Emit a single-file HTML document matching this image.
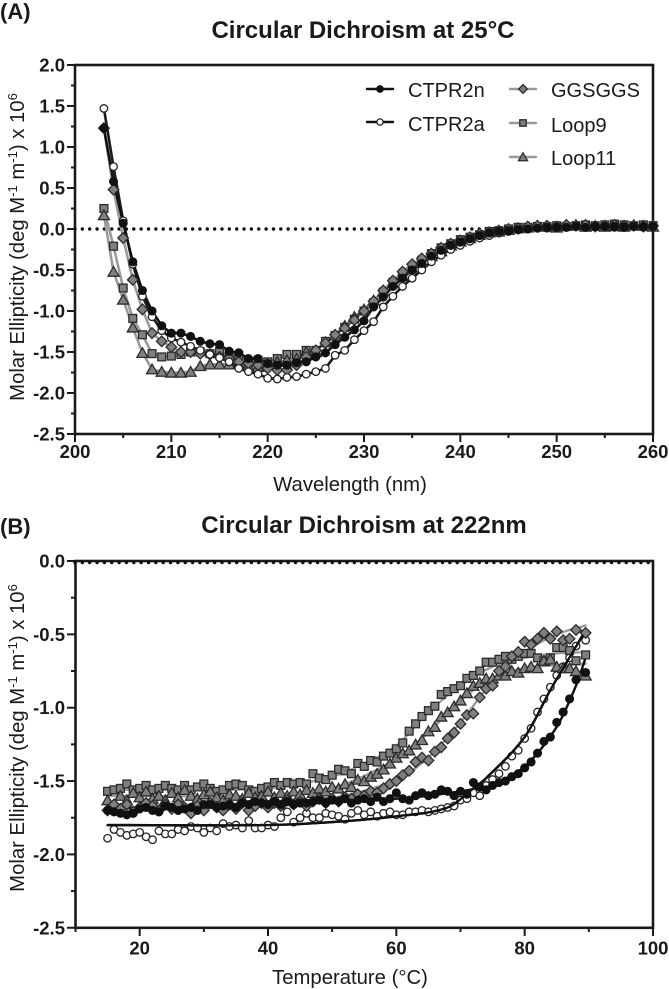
<!DOCTYPE html>
<html lang="en">
<head>
<meta charset="utf-8">
<title>Circular Dichroism</title>
<style>
html,body{margin:0;padding:0;background:#fff;}
svg{display:block;font-family:"Liberation Sans",sans-serif;fill:#1a1a1a;}
.pl{font-size:22px;font-weight:bold;}
.ti{font-size:24px;font-weight:bold;text-anchor:middle;}
.tk{font-size:18.5px;font-weight:bold;}
.ax{font-size:20.3px;}
.lg{font-size:20px;}
</style>
</head>
<body>
<svg id="fig" width="669" height="989" viewBox="0 0 669 989" xmlns="http://www.w3.org/2000/svg">
<rect x="0" y="0" width="669" height="989" fill="#fff"/>
<text class="pl" x="0" y="19">(A)</text>
<text class="ti" x="363" y="38">Circular Dichroism at 25°C</text>
<text class="pl" x="0" y="534">(B)</text>
<text class="ti" x="364" y="533">Circular Dichroism at 222nm</text>
<text class="ax" transform="translate(24,247) rotate(-90)" text-anchor="middle">Molar Ellipticity (deg M<tspan dy="-7" font-size="13">-1</tspan><tspan dy="7"> m</tspan><tspan dy="-7" font-size="13">-1</tspan><tspan dy="7">) x 10</tspan><tspan dy="-7" font-size="13">6</tspan></text>
<text class="ax" transform="translate(24,738) rotate(-90)" text-anchor="middle">Molar Ellipticity (deg M<tspan dy="-7" font-size="13">-1</tspan><tspan dy="7"> m</tspan><tspan dy="-7" font-size="13">-1</tspan><tspan dy="7">) x 10</tspan><tspan dy="-7" font-size="13">6</tspan></text>
<text class="ax" x="350" y="491" text-anchor="middle">Wavelength (nm)</text>
<text class="ax" x="350" y="984" text-anchor="middle">Temperature (°C)</text>
<g id="layerA"></g>
<g id="layerB"></g>
<g id="legend">
<text class="lg" x="408" y="97">CTPR2n</text>
<text class="lg" x="408" y="131">CTPR2a</text>
<text class="lg" x="551" y="97">GGSGGS</text>
<text class="lg" x="551" y="132">Loop9</text>
<text class="lg" x="551" y="165">Loop11</text>
</g>
</svg>
<script>
// ---------- Panel A data ----------
const wavelengths = [203,204,205,206,207,208,209,210,211,212,213,214,215,216,217,218,219,220,221,222,223,224,225,226,227,228,229,230,231,232,233,234,235,236,237,238,239,240,241,242,243,244,245,246,247,248,249,250,251,252,253,254,255,256,257,258,259,260];
const cdCTPR2n = [1.23,0.58,0.07,-0.40,-0.75,-1.00,-1.18,-1.27,-1.27,-1.31,-1.37,-1.40,-1.41,-1.49,-1.51,-1.58,-1.58,-1.64,-1.66,-1.66,-1.63,-1.62,-1.56,-1.51,-1.41,-1.32,-1.23,-1.12,-0.95,-0.83,-0.70,-0.60,-0.50,-0.42,-0.33,-0.26,-0.20,-0.16,-0.12,-0.08,-0.05,-0.03,-0.02,-0.01,0.00,0.01,0.02,0.02,0.02,0.03,0.02,0.03,0.03,0.03,0.02,0.03,0.03,0.03];
const cdCTPR2a = [1.47,0.76,0.10,-0.43,-0.82,-1.07,-1.24,-1.33,-1.38,-1.43,-1.48,-1.53,-1.57,-1.62,-1.70,-1.74,-1.77,-1.82,-1.83,-1.81,-1.80,-1.77,-1.74,-1.70,-1.54,-1.48,-1.35,-1.24,-1.13,-0.95,-0.82,-0.70,-0.60,-0.50,-0.40,-0.32,-0.25,-0.20,-0.15,-0.11,-0.08,-0.05,-0.03,-0.01,0.00,0.01,0.01,0.02,0.02,0.03,0.02,0.03,0.03,0.02,0.03,0.03,0.02,0.03];
const cdGGSGGS = [1.23,0.48,-0.11,-0.62,-0.98,-1.27,-1.37,-1.44,-1.50,-1.50,-1.52,-1.53,-1.56,-1.58,-1.62,-1.64,-1.66,-1.70,-1.72,-1.72,-1.66,-1.56,-1.48,-1.39,-1.29,-1.21,-1.11,-1.00,-0.88,-0.75,-0.63,-0.52,-0.43,-0.36,-0.30,-0.23,-0.18,-0.14,-0.10,-0.06,-0.04,-0.02,0.00,0.01,0.03,0.04,0.04,0.03,0.05,0.04,0.05,0.03,0.04,0.05,0.04,0.04,0.03,0.04];
const cdLoop9 = [0.25,-0.21,-0.72,-1.09,-1.29,-1.52,-1.56,-1.55,-1.53,-1.50,-1.50,-1.52,-1.50,-1.55,-1.54,-1.62,-1.60,-1.62,-1.58,-1.53,-1.53,-1.48,-1.48,-1.37,-1.30,-1.20,-1.10,-1.00,-0.90,-0.77,-0.65,-0.55,-0.46,-0.38,-0.30,-0.23,-0.18,-0.13,-0.10,-0.07,-0.03,-0.02,0.00,0.02,0.02,0.03,0.03,0.04,0.03,0.04,0.05,0.04,0.05,0.06,0.05,0.04,0.05,0.04];
const cdLoop11 = [0.17,-0.52,-0.86,-1.20,-1.51,-1.71,-1.74,-1.75,-1.75,-1.74,-1.67,-1.65,-1.65,-1.65,-1.65,-1.67,-1.68,-1.66,-1.62,-1.60,-1.58,-1.50,-1.50,-1.38,-1.30,-1.18,-1.07,-0.98,-0.87,-0.76,-0.66,-0.57,-0.48,-0.40,-0.33,-0.27,-0.20,-0.15,-0.11,-0.07,-0.04,-0.03,-0.01,0.01,0.02,0.04,0.03,0.02,0.04,0.05,0.03,0.04,0.03,0.04,0.03,0.05,0.04,0.03];
const yTicksA = ["2.0","1.5","1.0","0.5","0.0","-0.5","-1.0","-1.5","-2.0","-2.5"];
const xTicksA = ["200","210","220","230","240","250","260"];

// ---------- Panel B data ----------
const temperatures = [15,16,17,18,19,20,21,22,23,24,25,26,27,28,29,30,31,32,33,34,35,36,37,38,39,40,41,42,43,44,45,46,47,48,49,50,51,52,53,54,55,56,57,58,59,60,61,62,63,64,65,66,67,68,69,70,71,72,73,74,75,76,77,78,79,80,81,82,83,84,85,86,87,88,89.5];
const meltCTPR2n = [-1.70,-1.71,-1.72,-1.73,-1.72,-1.69,-1.68,-1.70,-1.71,-1.67,-1.68,-1.70,-1.69,-1.68,-1.70,-1.66,-1.66,-1.68,-1.67,-1.66,-1.68,-1.65,-1.66,-1.64,-1.65,-1.66,-1.64,-1.66,-1.64,-1.66,-1.65,-1.65,-1.64,-1.63,-1.65,-1.63,-1.64,-1.62,-1.65,-1.63,-1.62,-1.64,-1.61,-1.64,-1.62,-1.58,-1.62,-1.63,-1.60,-1.58,-1.60,-1.59,-1.56,-1.57,-1.60,-1.57,-1.59,-1.51,-1.54,-1.56,-1.53,-1.51,-1.50,-1.47,-1.45,-1.41,-1.37,-1.31,-1.23,-1.20,-1.10,-1.03,-0.94,-0.81,-0.76];
const meltCTPR2a = [-1.89,-1.83,-1.85,-1.87,-1.86,-1.85,-1.88,-1.90,-1.84,-1.86,-1.86,-1.83,-1.84,-1.81,-1.82,-1.85,-1.82,-1.84,-1.79,-1.81,-1.80,-1.82,-1.77,-1.82,-1.82,-1.80,-1.81,-1.75,-1.71,-1.78,-1.75,-1.72,-1.75,-1.75,-1.72,-1.73,-1.74,-1.76,-1.72,-1.70,-1.73,-1.71,-1.74,-1.72,-1.71,-1.73,-1.73,-1.71,-1.71,-1.70,-1.71,-1.70,-1.69,-1.68,-1.67,-1.63,-1.62,-1.58,-1.60,-1.53,-1.49,-1.45,-1.40,-1.33,-1.29,-1.21,-1.14,-1.03,-0.94,-0.86,-0.78,-0.72,-0.66,-0.58,-0.54];
const meltGGSGGS = [-1.70,-1.66,-1.69,-1.66,-1.71,-1.68,-1.65,-1.67,-1.70,-1.66,-1.69,-1.66,-1.68,-1.72,-1.67,-1.70,-1.65,-1.68,-1.70,-1.66,-1.69,-1.65,-1.70,-1.67,-1.65,-1.68,-1.65,-1.67,-1.63,-1.66,-1.64,-1.67,-1.64,-1.62,-1.65,-1.62,-1.64,-1.61,-1.62,-1.59,-1.60,-1.57,-1.58,-1.55,-1.52,-1.50,-1.46,-1.43,-1.37,-1.34,-1.36,-1.30,-1.27,-1.21,-1.17,-1.11,-1.05,-1.04,-0.93,-0.87,-0.85,-0.75,-0.72,-0.65,-0.62,-0.55,-0.57,-0.53,-0.49,-0.53,-0.48,-0.54,-0.53,-0.47,-0.49];
const meltLoop9 = [-1.57,-1.56,-1.55,-1.52,-1.56,-1.55,-1.53,-1.56,-1.55,-1.53,-1.55,-1.56,-1.53,-1.56,-1.54,-1.52,-1.55,-1.57,-1.56,-1.53,-1.52,-1.53,-1.56,-1.57,-1.55,-1.54,-1.51,-1.53,-1.51,-1.52,-1.51,-1.52,-1.45,-1.48,-1.49,-1.46,-1.42,-1.43,-1.45,-1.38,-1.40,-1.36,-1.37,-1.33,-1.31,-1.28,-1.24,-1.16,-1.11,-1.06,-1.02,-0.99,-0.91,-0.89,-0.87,-0.85,-0.80,-0.78,-0.75,-0.69,-0.69,-0.67,-0.65,-0.67,-0.65,-0.63,-0.63,-0.66,-0.68,-0.66,-0.59,-0.59,-0.61,-0.68,-0.64];
const meltLoop11 = [-1.63,-1.66,-1.60,-1.63,-1.58,-1.61,-1.57,-1.62,-1.60,-1.63,-1.58,-1.61,-1.56,-1.60,-1.62,-1.59,-1.57,-1.61,-1.63,-1.59,-1.60,-1.62,-1.58,-1.61,-1.60,-1.57,-1.61,-1.58,-1.60,-1.57,-1.59,-1.56,-1.58,-1.55,-1.57,-1.54,-1.55,-1.52,-1.54,-1.49,-1.50,-1.47,-1.45,-1.42,-1.38,-1.34,-1.31,-1.29,-1.25,-1.22,-1.16,-1.13,-1.06,-1.03,-0.99,-0.95,-0.90,-0.85,-0.83,-0.80,-0.80,-0.78,-0.78,-0.75,-0.76,-0.73,-0.72,-0.73,-0.68,-0.67,-0.72,-0.73,-0.73,-0.75,-0.78];
const fitTempsCTPR2n = [15,40,60,70,75,80,85,88,89.5];
const fitCTPR2n = [-1.69,-1.65,-1.62,-1.57,-1.52,-1.40,-1.13,-0.85,-0.66];
const fitTempsCTPR2a = [15,40,50,60,68,72,74,80,84,86,89];
const fitCTPR2a = [-1.80,-1.80,-1.78,-1.74,-1.68,-1.55,-1.48,-1.20,-0.88,-0.73,-0.51];
const fitTempsGGSGGS = [15,40,50,60,65,70,75,80,85,89.5];
const fitGGSGGS = [-1.68,-1.66,-1.62,-1.49,-1.34,-1.10,-0.82,-0.62,-0.50,-0.44];
const fitTempsLoop9 = [15,40,50,55,60,65,70,75,80,85,90];
const fitLoop9 = [-1.56,-1.55,-1.47,-1.38,-1.26,-1.03,-0.85,-0.72,-0.66,-0.63,-0.62];
const fitTempsLoop11 = [15,40,50,60,65,70,75,80,85,89.5];
const fitLoop11 = [-1.60,-1.60,-1.55,-1.35,-1.17,-0.95,-0.80,-0.73,-0.71,-0.70];
const yTicksB = ["0.0","-0.5","-1.0","-1.5","-2.0","-2.5"];
const xTicksB = ["20","40","60","80","100"];

// ---------- Axis functions ----------
const NS = "http://www.w3.org/2000/svg";
const INK = "#1a1a1a";
const GRAY = "#9a9a9a";
const xA = v => 75 + (v - 200) * (653 - 75) / 60;
const yA = v => 229 - v * 82;
const xB = v => 75.5 + (v - 10) * (653 - 75.5) / 90;
const yB = v => 561 - v * 146.7;

function el(parent, tag, attrs) {
  const e = document.createElementNS(NS, tag);
  for (const k in attrs) e.setAttribute(k, attrs[k]);
  parent.appendChild(e);
  return e;
}
function label(parent, x, y, anchor, txt, name) {
  const t = el(parent, "text", {x: x, y: y, "text-anchor": anchor, "class": "tk"});
  t.textContent = txt;
  
  
}
function tick(parent, x1, y1, x2, y2, name) {
  const t = el(parent, "line", {x1: x1, y1: y1, x2: x2, y2: y2, stroke: INK, "stroke-width": 2});
  
  
}
function frame(parent, l, t, r, b, name) {
  const f = el(parent, "rect", {x: l, y: t, width: r - l, height: b - t, fill: "none", stroke: INK, "stroke-width": 2.6});
  
  
}
function dotted(parent, l, r, y, name) {
  const d = el(parent, "line", {x1: l, y1: y, x2: r, y2: y, stroke: "#111", "stroke-width": 3.4, "stroke-linecap": "round", "stroke-dasharray": "0 7.35"});
  
  
}
function marker(parent, kind, cx, cy, s, name) {
  let m;
  const style = {fill: "#808080", stroke: "#2b2b2b", "stroke-width": 1.3};
  if (kind === "filled") {
    m = el(parent, "circle", {cx: cx, cy: cy, r: s * 0.88, fill: "#111", stroke: "#111", "stroke-width": 1});
  } else if (kind === "open") {
    m = el(parent, "circle", {cx: cx, cy: cy, r: s * 0.82, fill: "#fff", stroke: "#222", "stroke-width": 1.3});
  } else if (kind === "square") {
    m = el(parent, "rect", Object.assign({x: cx - s * 0.85, y: cy - s * 0.85, width: s * 1.7, height: s * 1.7}, style));
  } else if (kind === "diamond") {
    const d = s * 1.15;
    m = el(parent, "polygon", Object.assign({points: [cx, cy - d, cx + d, cy, cx, cy + d, cx - d, cy].join(",")}, style));
  } else {
    const w = s * 1.2, h = s * 1.1;
    m = el(parent, "polygon", Object.assign({points: [cx, cy - h, cx + w, cy + h * 0.9, cx - w, cy + h * 0.9].join(",")}, style));
  }
  
  
}
function polyPath(xs, ys) {
  return xs.map((x, i) => (i ? "L" : "M") + x.toFixed(1) + " " + ys[i].toFixed(1)).join(" ");
}
function smoothPath(xs, ys) {
  let d = "M" + xs[0].toFixed(1) + " " + ys[0].toFixed(1);
  for (let i = 0; i < xs.length - 1; i++) {
    const x0 = xs[Math.max(i - 1, 0)], y0 = ys[Math.max(i - 1, 0)];
    const x3 = xs[Math.min(i + 2, xs.length - 1)], y3 = ys[Math.min(i + 2, xs.length - 1)];
    const seg = (xs[i + 1] - xs[i]) / 3;
    const s1 = (ys[i + 1] - y0) / (xs[i + 1] - x0 || 1);
    const s2 = (y3 - ys[i]) / (x3 - xs[i] || 1);
    d += " C" + (xs[i] + seg).toFixed(1) + " " + (ys[i] + s1 * seg).toFixed(1) + " " +
      (xs[i + 1] - seg).toFixed(1) + " " + (ys[i + 1] - s2 * seg).toFixed(1) + " " +
      xs[i + 1].toFixed(1) + " " + ys[i + 1].toFixed(1);
  }
  return d;
}
function curve(parent, d, color, width, name) {
  const p = el(parent, "path", {d: d, fill: "none", stroke: color, "stroke-width": width, "stroke-linejoin": "round", "stroke-linecap": "round"});
  
  
}

// ---------- Panel A ----------
const gA = document.getElementById("layerA");
frame(gA, 75, 65, 653, 434, "panel-a-axes-frame");
yTicksA.forEach(t => {
  const v = parseFloat(t);
  tick(gA, 67, yA(v), 75, yA(v), "panel-a-y-tick");
  label(gA, 65, yA(v) + 6.5, "end", t, "panel-a-y-tick-label");
  if (v > -2.5) tick(gA, 71, yA(v - 0.25), 75, yA(v - 0.25), "panel-a-y-minor-tick");
});
xTicksA.forEach(t => {
  const v = parseFloat(t);
  tick(gA, xA(v), 434, xA(v), 442, "panel-a-x-tick");
  label(gA, xA(v), 458, "middle", t, "panel-a-x-tick-label");
  if (v < 260) tick(gA, xA(v + 5), 434, xA(v + 5), 438, "panel-a-x-minor-tick");
});
dotted(gA, 75, 653, yA(0), "panel-a-zero-line");

const seriesA = [
  {name: "loop9", vals: cdLoop9, kind: "square", color: GRAY},
  {name: "loop11", vals: cdLoop11, kind: "triangle", color: GRAY},
  {name: "ggsggs", vals: cdGGSGGS, kind: "diamond", color: GRAY},
  {name: "ctpr2a", vals: cdCTPR2a, kind: "open", color: "#1a1a1a"},
  {name: "ctpr2n", vals: cdCTPR2n, kind: "filled", color: "#111"}
];
seriesA.forEach(s => {
  curve(gA, polyPath(wavelengths.map(xA), s.vals.map(yA)), s.color, 2.6, "panel-a-line-" + s.name);
});
seriesA.forEach(s => {
  s.vals.forEach((v, i) => marker(gA, s.kind, xA(wavelengths[i]), yA(v), 4.6, "panel-a-point-" + s.name));
});

// ---------- Panel B ----------
const gB = document.getElementById("layerB");
frame(gB, 75.5, 561, 653, 927.8, "panel-b-axes-frame");
yTicksB.forEach(t => {
  const v = parseFloat(t);
  tick(gB, 67, yB(v), 75, yB(v), "panel-b-y-tick");
  label(gB, 65, yB(v) + 6.5, "end", t, "panel-b-y-tick-label");
  if (v > -2.5) tick(gB, 71, yB(v - 0.25), 75, yB(v - 0.25), "panel-b-y-minor-tick");
});
xTicksB.forEach(t => {
  const v = parseFloat(t);
  tick(gB, xB(v), 928, xB(v), 936, "panel-b-x-tick");
  label(gB, xB(v), 954.5, "middle", t, "panel-b-x-tick-label");
  tick(gB, xB(v - 10), 928, xB(v - 10), 932, "panel-b-x-minor-tick");
});
dotted(gB, 75, 653, 562.5, "panel-b-zero-line");

const seriesB = [
  {name: "ctpr2a", vals: meltCTPR2a, fx: fitTempsCTPR2a, fy: fitCTPR2a, kind: "open", color: "#111"},
  {name: "loop9", vals: meltLoop9, fx: fitTempsLoop9, fy: fitLoop9, kind: "square", color: GRAY},
  {name: "loop11", vals: meltLoop11, fx: fitTempsLoop11, fy: fitLoop11, kind: "triangle", color: GRAY},
  {name: "ggsggs", vals: meltGGSGGS, fx: fitTempsGGSGGS, fy: fitGGSGGS, kind: "diamond", color: GRAY},
  {name: "ctpr2n", vals: meltCTPR2n, fx: fitTempsCTPR2n, fy: fitCTPR2n, kind: "filled", color: "#111"}
];
seriesB.forEach(s => {
  curve(gB, smoothPath(s.fx.map(xB), s.fy.map(yB)), s.color, 2.4, "panel-b-fit-" + s.name);
});
seriesB.forEach(s => {
  s.vals.forEach((v, i) => marker(gB, s.kind, xB(temperatures[i]), yB(v), 4.6, "panel-b-point-" + s.name));
});
// CTPR2a fit sits above the gray markers in the reference
curve(gB, smoothPath(fitTempsCTPR2a.map(xB), fitCTPR2a.map(yB)), "#111", 2.4, "panel-b-fit-ctpr2a-overlay");

// ---------- Legend ----------
const gL = document.getElementById("legend");
const legendX = [367, 367, 510, 510, 510];
const legendY = [89, 122, 89, 123, 157];
const legendKinds = ["filled", "open", "diamond", "square", "triangle"];
const legendNames = ["ctpr2n", "ctpr2a", "ggsggs", "loop9", "loop11"];
legendKinds.forEach((k, i) => {
  const c = i < 2 ? "#111" : GRAY;
  curve(gL, "M" + legendX[i] + " " + legendY[i] + " H" + (legendX[i] + 26), c, 2.4, "legend-line-" + legendNames[i]);
  marker(gL, k, legendX[i] + 13, legendY[i], 3.8, "legend-marker-" + legendNames[i]);
});
</script>
</body>
</html>
